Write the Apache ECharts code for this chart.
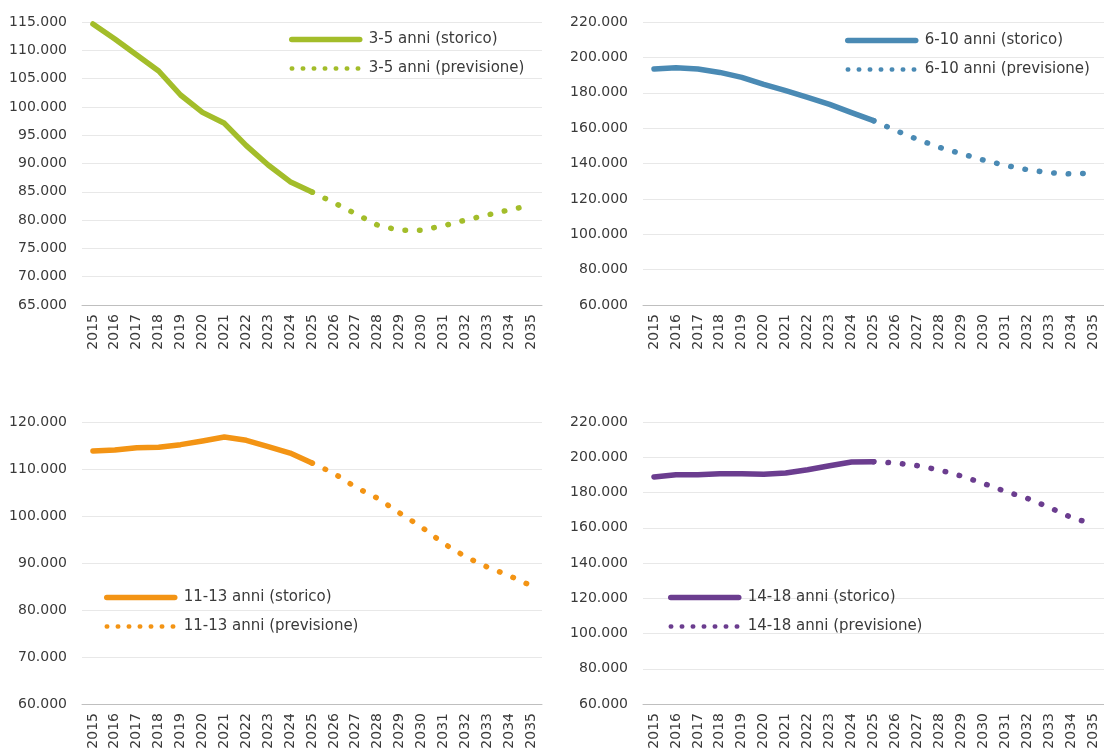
<!DOCTYPE html>
<html>
<head>
<meta charset="utf-8">
<script src="https://cdn.jsdelivr.net/npm/echarts@6/dist/echarts.min.js"></script>
<style>
html,body{margin:0;padding:0;background:#fff;}
#chart{width:1104px;height:753px;}
</style>
</head>
<body>
<div id="chart"></div>
<script>
const years = ['2015','2016','2017','2018','2019','2020','2021','2022','2023','2024','2025','2026','2027','2028','2029','2030','2031','2032','2033','2034','2035'];

// 3-5 anni
const hist35 = [114650, 112000, 109170, 106340, 102100, 99040, 97100, 93150, 89740, 86790, 84960];
const prev35 = [84960, 83080, 81100, 79100, 78200, 78200, 79000, 80000, 80900, 81800, 82600];
// 6-10 anni
const hist610 = [193400, 194200, 193400, 191500, 188700, 184760, 181180, 177400, 173450, 168740, 164220];
const prev610 = [164220, 158750, 153660, 149140, 145560, 141980, 138960, 136510, 134810, 134060, 134600];
// 11-13 anni
const hist1113 = [113830, 114040, 114540, 114610, 115180, 115960, 116810, 116100, 114750, 113400, 111280];
const prev1113 = [111280, 109080, 106100, 103760, 100640, 97660, 94180, 91350, 89150, 87300, 85180];
// 14-18 anni
const hist1418 = [188800, 190120, 190120, 190690, 190690, 190310, 191060, 192950, 195220, 197300, 197490];
const prev1418 = [197490, 196740, 195220, 192770, 189360, 185200, 180660, 176690, 171580, 165910, 162000];

const yMin = [65000, 60000, 60000, 60000];
const yMax = [115000, 220000, 120000, 220000];
const yStep = [5000, 20000, 10000, 20000];

const panels = [
  {name:'3-5 anni', color:'#A3BD2A', hist:hist35, prev:prev35},
  {name:'6-10 anni', color:'#4A8AB4', hist:hist610, prev:prev610},
  {name:'11-13 anni', color:'#F39414', hist:hist1113, prev:prev1113},
  {name:'14-18 anni', color:'#6B3D8F', hist:hist1418, prev:prev1418}
];

const FONT = 'DejaVu Sans';
const TXT = '#3a3a3a';

const grids = [
  {left:82, top:22, width:460, height:283},
  {left:643, top:22, width:461, height:283},
  {left:82, top:422, width:460, height:282},
  {left:643, top:422, width:461, height:282}
];
const legendPos = [
  {left:289, top:32},
  {left:845, top:33},
  {left:104, top:590},
  {left:668, top:590}
];

function fmt(v){
  return String(v).replace(/\B(?=(\d{3})+(?!\d))/g, '.');
}

const xAxis = [], yAxis = [], series = [], legend = [];
panels.forEach((p, i) => {
  xAxis.push({
    type:'category', gridIndex:i, data:years, boundaryGap:true,
    axisTick:{show:false},
    axisLine:{lineStyle:{color:'#bfbfbf', width:1}},
    axisLabel:{rotate:90, interval:0, color:TXT, fontFamily:FONT, fontSize:14, margin:9}
  });
  yAxis.push({
    type:'value', gridIndex:i, min:yMin[i], max:yMax[i], interval:yStep[i],
    axisLine:{show:false}, axisTick:{show:false},
    splitLine:{lineStyle:{color:'#e8e8e8', width:1}},
    axisLabel:{color:TXT, fontFamily:FONT, fontSize:14, margin:15, formatter:fmt}
  });
  const histData = years.map((y, k) => k < p.hist.length ? p.hist[k] : null);
  const prevData = years.map((y, k) => k >= 10 ? p.prev[k - 10] : null);
  const hName = p.name + ' (storico)';
  const fName = p.name + ' (previsione)';
  series.push({
    name:fName, type:'line', xAxisIndex:i, yAxisIndex:i, data:prevData,
    symbol:'none', connectNulls:false, z:2,
    lineStyle:{color:p.color, width:5.5, type:[0.5, 14], cap:'round'},
    itemStyle:{color:p.color}
  });
  series.push({
    name:hName, type:'line', xAxisIndex:i, yAxisIndex:i, data:histData,
    symbol:'none', z:3,
    lineStyle:{color:p.color, width:5.5, cap:'round', join:'round'},
    itemStyle:{color:p.color}
  });
  legend.push({
    orient:'vertical', left:legendPos[i].left, top:legendPos[i].top, padding:0,
    itemWidth:68, itemHeight:14, itemGap:14,
    data:[
      {name:hName, lineStyle:{width:5.5, cap:'round'}},
      {name:fName, lineStyle:{width:4.5, type:[0.5, 10.5], cap:'round'}}
    ],
    itemStyle:{opacity:0},
    textStyle:{color:TXT, fontFamily:FONT, fontSize:15, padding:[0,0,0,4]},
    lineStyle:{width:5.5, cap:'round'}
  });
});

const chart = echarts.init(document.getElementById('chart'), null, {renderer:'canvas'});
chart.setOption({
  backgroundColor:'#ffffff',
  animation:false,
  grid:grids,
  xAxis:xAxis,
  yAxis:yAxis,
  legend:legend,
  series:series
});
</script>
</body>
</html>
